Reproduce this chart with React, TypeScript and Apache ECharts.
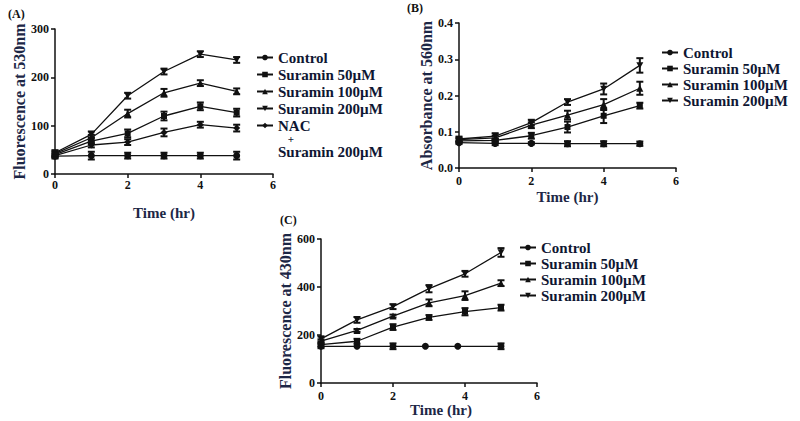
import React, { useEffect, useRef } from "react";
import * as echarts from "echarts";

const timeHours = [0, 1, 2, 3, 4, 5];
const xTicks = [0, 2, 4, 6];

// Panel A – Fluorescence at 530nm
const aControl = [37, 38, 38, 38, 38, 38];
const aControlErr = [5, 8, 6, 6, 6, 8];
const aSur50 = [40, 68, 84, 120, 140, 127];
const aSur50Err = [5, 6, 8, 9, 8, 8];
const aSur100 = [42, 75, 125, 168, 188, 171];
const aSur100Err = [5, 6, 8, 8, 6, 6];
const aSur200 = [44, 82, 162, 212, 248, 236];
const aSur200Err = [5, 6, 6, 6, 6, 6];
const aNac = [38, 60, 66, 86, 102, 95];
const aNacErr = [4, 5, 6, 8, 6, 7];
const aYTicks = [0, 100, 200, 300];

// Panel B – Absorbance at 560nm
const bControl = [0.07, 0.068, 0.068, 0.067, 0.067, 0.067];
const bControlErr = [0.004, 0.005, 0.003, 0.007, 0.007, 0.006];
const bSur50 = [0.075, 0.076, 0.089, 0.113, 0.144, 0.172];
const bSur50Err = [0.005, 0.005, 0.008, 0.015, 0.02, 0.008];
const bSur100 = [0.078, 0.083, 0.118, 0.146, 0.175, 0.22];
const bSur100Err = [0.005, 0.006, 0.008, 0.012, 0.015, 0.018];
const bSur200 = [0.08, 0.088, 0.125, 0.182, 0.218, 0.283];
const bSur200Err = [0.006, 0.008, 0.008, 0.008, 0.015, 0.02];
const bYTicks = [0, 0.1, 0.2, 0.3, 0.4];

// Panel C – Fluorescence at 430nm
const cControlTime = [0, 1, 2, 2.9, 3.8, 5];
const cControl = [153, 153, 153, 153, 153, 153];
const cControlErr = [8, 0, 12, 0, 0, 12];
const cSur50 = [160, 174, 233, 273, 297, 314];
const cSur50Err = [8, 10, 12, 10, 15, 12];
const cSur100 = [174, 219, 279, 334, 364, 416];
const cSur100Err = [8, 6, 6, 14, 18, 12];
const cSur200 = [184, 263, 318, 393, 455, 544];
const cSur200Err = [10, 12, 10, 15, 12, 18];
const cYTicks = [0, 200, 400, 600];

const NAME_CONTROL = "Control";
const NAME_50 = "Suramin 50µM";
const NAME_100 = "Suramin 100µM";
const NAME_200 = "Suramin 200µM";
const NAME_NAC = "NAC";

const SERIF = "'Liberation Serif', 'Times New Roman', serif";
const INK = "#111111";
const TITLE_INK = "#1d2746";
const LEGEND_INK = "#0f1733";
const DOWN_TRI = "path://M0,0L10,0L5,9Z";

const symbolOf: Record<string, any> = {
  [NAME_CONTROL]: "circle",
  [NAME_50]: "rect",
  [NAME_100]: "triangle",
  [NAME_200]: DOWN_TRI,
  [NAME_NAC]: "diamond",
};

function pairs(xs: number[], ys: number[]) {
  return ys.map((y, i) => [xs[i], y]);
}
function triples(xs: number[], ys: number[], es: number[]) {
  return ys.map((y, i) => [xs[i], y, es[i]]).filter((d) => d[2] > 0);
}

function lineSeries(name: string, idx: number, xs: number[], ys: number[]) {
  return {
    type: "line",
    name,
    xAxisIndex: idx,
    yAxisIndex: idx,
    data: pairs(xs, ys),
    symbol: symbolOf[name],
    symbolSize: name === NAME_50 ? 6 : 7,
    symbolKeepAspect: true,
    showAllSymbol: true,
    lineStyle: { color: INK, width: 1.3 },
    itemStyle: { color: INK },
    z: 3,
  };
}

function errorSeries(idx: number, xs: number[], ys: number[], es: number[]) {
  return {
    type: "custom",
    xAxisIndex: idx,
    yAxisIndex: idx,
    data: triples(xs, ys, es),
    encode: { x: 0, y: 1 },
    z: 4,
    renderItem: (params: any, api: any) => {
      const x = api.value(0);
      const y = api.value(1);
      const e = api.value(2);
      const hi = api.coord([x, y + e]);
      const lo = api.coord([x, y - e]);
      const w = 3.5;
      const style = { stroke: INK, lineWidth: 2 };
      return {
        type: "group",
        children: [
          { type: "line", shape: { x1: hi[0], y1: hi[1], x2: lo[0], y2: lo[1] }, style },
          { type: "line", shape: { x1: hi[0] - w, y1: hi[1], x2: hi[0] + w, y2: hi[1] }, style },
          { type: "line", shape: { x1: lo[0] - w, y1: lo[1], x2: lo[0] + w, y2: lo[1] }, style },
        ],
      };
    },
  };
}

function xAxis(idx: number, nameGap: number, labelMargin: number, namePadLeft = 0) {
  return {
    type: "value",
    gridIndex: idx,
    min: xTicks[0],
    max: xTicks[xTicks.length - 1],
    interval: 2,
    name: "Time (hr)",
    nameLocation: "middle",
    nameGap,
    nameTextStyle: {
      fontFamily: SERIF,
      fontWeight: "bold",
      fontSize: 15,
      color: TITLE_INK,
      padding: [0, 0, 0, namePadLeft],
    },
    axisLine: { show: true, onZero: false, lineStyle: { color: INK, width: 1.5 } },
    axisTick: { show: true, length: 4, lineStyle: { color: INK, width: 1.5 } },
    axisLabel: {
      fontFamily: SERIF,
      fontWeight: "bold",
      fontSize: 12,
      color: INK,
      margin: labelMargin,
    },
    splitLine: { show: false },
  };
}

function yAxis(idx: number, name: string, ticks: number[], nameGap: number, decimals: number) {
  return {
    type: "value",
    gridIndex: idx,
    min: ticks[0],
    max: ticks[ticks.length - 1],
    interval: ticks[1] - ticks[0],
    name,
    nameLocation: "middle",
    nameGap,
    nameRotate: 90,
    nameTextStyle: {
      fontFamily: SERIF,
      fontWeight: "bold",
      fontSize: 16,
      color: TITLE_INK,
    },
    axisLine: { show: true, lineStyle: { color: INK, width: 1.5 } },
    axisTick: { show: true, length: 4, lineStyle: { color: INK, width: 1.5 } },
    axisLabel: {
      fontFamily: SERIF,
      fontWeight: "bold",
      fontSize: 12,
      color: INK,
      margin: 6,
      formatter: (v: number) => v.toFixed(decimals),
    },
    splitLine: { show: false },
  };
}

function legend(names: string[], left: number, top: number, gap: number) {
  return {
    orient: "vertical",
    left,
    top,
    padding: 0,
    itemGap: gap,
    itemWidth: 16,
    itemHeight: 7,
    selectedMode: false,
    data: names,
    textStyle: {
      fontFamily: SERIF,
      fontWeight: "bold",
      fontSize: 15,
      lineHeight: 15,
      color: LEGEND_INK,
    },
  };
}

function panelLabel(text: string, x: number, y: number) {
  return {
    type: "text",
    x,
    y,
    style: {
      text,
      fontFamily: SERIF,
      fontWeight: "bold",
      fontSize: 12,
      fill: INK,
      textVerticalAlign: "middle",
    },
  };
}

export default function App() {
  const ref = useRef<HTMLDivElement>(null);

  useEffect(() => {
    if (!ref.current) return;
    const chart = echarts.init(ref.current, null, { renderer: "svg" });
    const option: any = {
      animation: false,
      backgroundColor: "#ffffff",
      grid: [
        { left: 55, top: 29, width: 218, height: 145 },
        { left: 459, top: 23, width: 217, height: 145 },
        { left: 321, top: 239, width: 216, height: 144 },
      ],
      xAxis: [xAxis(0, 31, 5), xAxis(1, 21, 7), xAxis(2, 19, 7, 24)],
      yAxis: [
        yAxis(0, "Fluorescence at 530nm", aYTicks, 27, 0),
        yAxis(1, "Absorbance at 560nm", bYTicks, 24, 1),
        yAxis(2, "Fluorescence at 430nm", cYTicks, 28, 0),
      ],
      legend: [
        legend([NAME_CONTROL, NAME_50, NAME_100, NAME_200, NAME_NAC], 256, 50, 2),
        legend([NAME_CONTROL, NAME_50, NAME_100, NAME_200], 661, 45, 1),
        legend([NAME_CONTROL, NAME_50, NAME_100, NAME_200], 519, 240, 1),
      ],
      graphic: [
        panelLabel("(A)", 8, 14),
        panelLabel("(B)", 407, 8),
        panelLabel("(C)", 280, 220),
        {
          type: "text",
          x: 291,
          y: 139,
          style: {
            text: "+",
            fontFamily: SERIF,
            fontWeight: "bold",
            fontSize: 11,
            fill: LEGEND_INK,
            textAlign: "center",
            textVerticalAlign: "middle",
          },
        },
        {
          type: "text",
          x: 278,
          y: 152,
          style: {
            text: NAME_200,
            fontFamily: SERIF,
            fontWeight: "bold",
            fontSize: 15,
            fill: LEGEND_INK,
            textVerticalAlign: "middle",
          },
        },
      ],
      series: [
        lineSeries(NAME_CONTROL, 0, timeHours, aControl),
        lineSeries(NAME_50, 0, timeHours, aSur50),
        lineSeries(NAME_100, 0, timeHours, aSur100),
        lineSeries(NAME_200, 0, timeHours, aSur200),
        lineSeries(NAME_NAC, 0, timeHours, aNac),
        errorSeries(0, timeHours, aControl, aControlErr),
        errorSeries(0, timeHours, aSur50, aSur50Err),
        errorSeries(0, timeHours, aSur100, aSur100Err),
        errorSeries(0, timeHours, aSur200, aSur200Err),
        errorSeries(0, timeHours, aNac, aNacErr),

        lineSeries(NAME_CONTROL, 1, timeHours, bControl),
        lineSeries(NAME_50, 1, timeHours, bSur50),
        lineSeries(NAME_100, 1, timeHours, bSur100),
        lineSeries(NAME_200, 1, timeHours, bSur200),
        errorSeries(1, timeHours, bControl, bControlErr),
        errorSeries(1, timeHours, bSur50, bSur50Err),
        errorSeries(1, timeHours, bSur100, bSur100Err),
        errorSeries(1, timeHours, bSur200, bSur200Err),

        lineSeries(NAME_CONTROL, 2, cControlTime, cControl),
        lineSeries(NAME_50, 2, timeHours, cSur50),
        lineSeries(NAME_100, 2, timeHours, cSur100),
        lineSeries(NAME_200, 2, timeHours, cSur200),
        errorSeries(2, cControlTime, cControl, cControlErr),
        errorSeries(2, timeHours, cSur50, cSur50Err),
        errorSeries(2, timeHours, cSur100, cSur100Err),
        errorSeries(2, timeHours, cSur200, cSur200Err),
      ],
    };
    chart.setOption(option);
    return () => chart.dispose();
  }, []);

  return (
    <div
      ref={ref}
      style={{ position: "absolute", left: 0, top: 0, width: 800, height: 421 }}
    />
  );
}
